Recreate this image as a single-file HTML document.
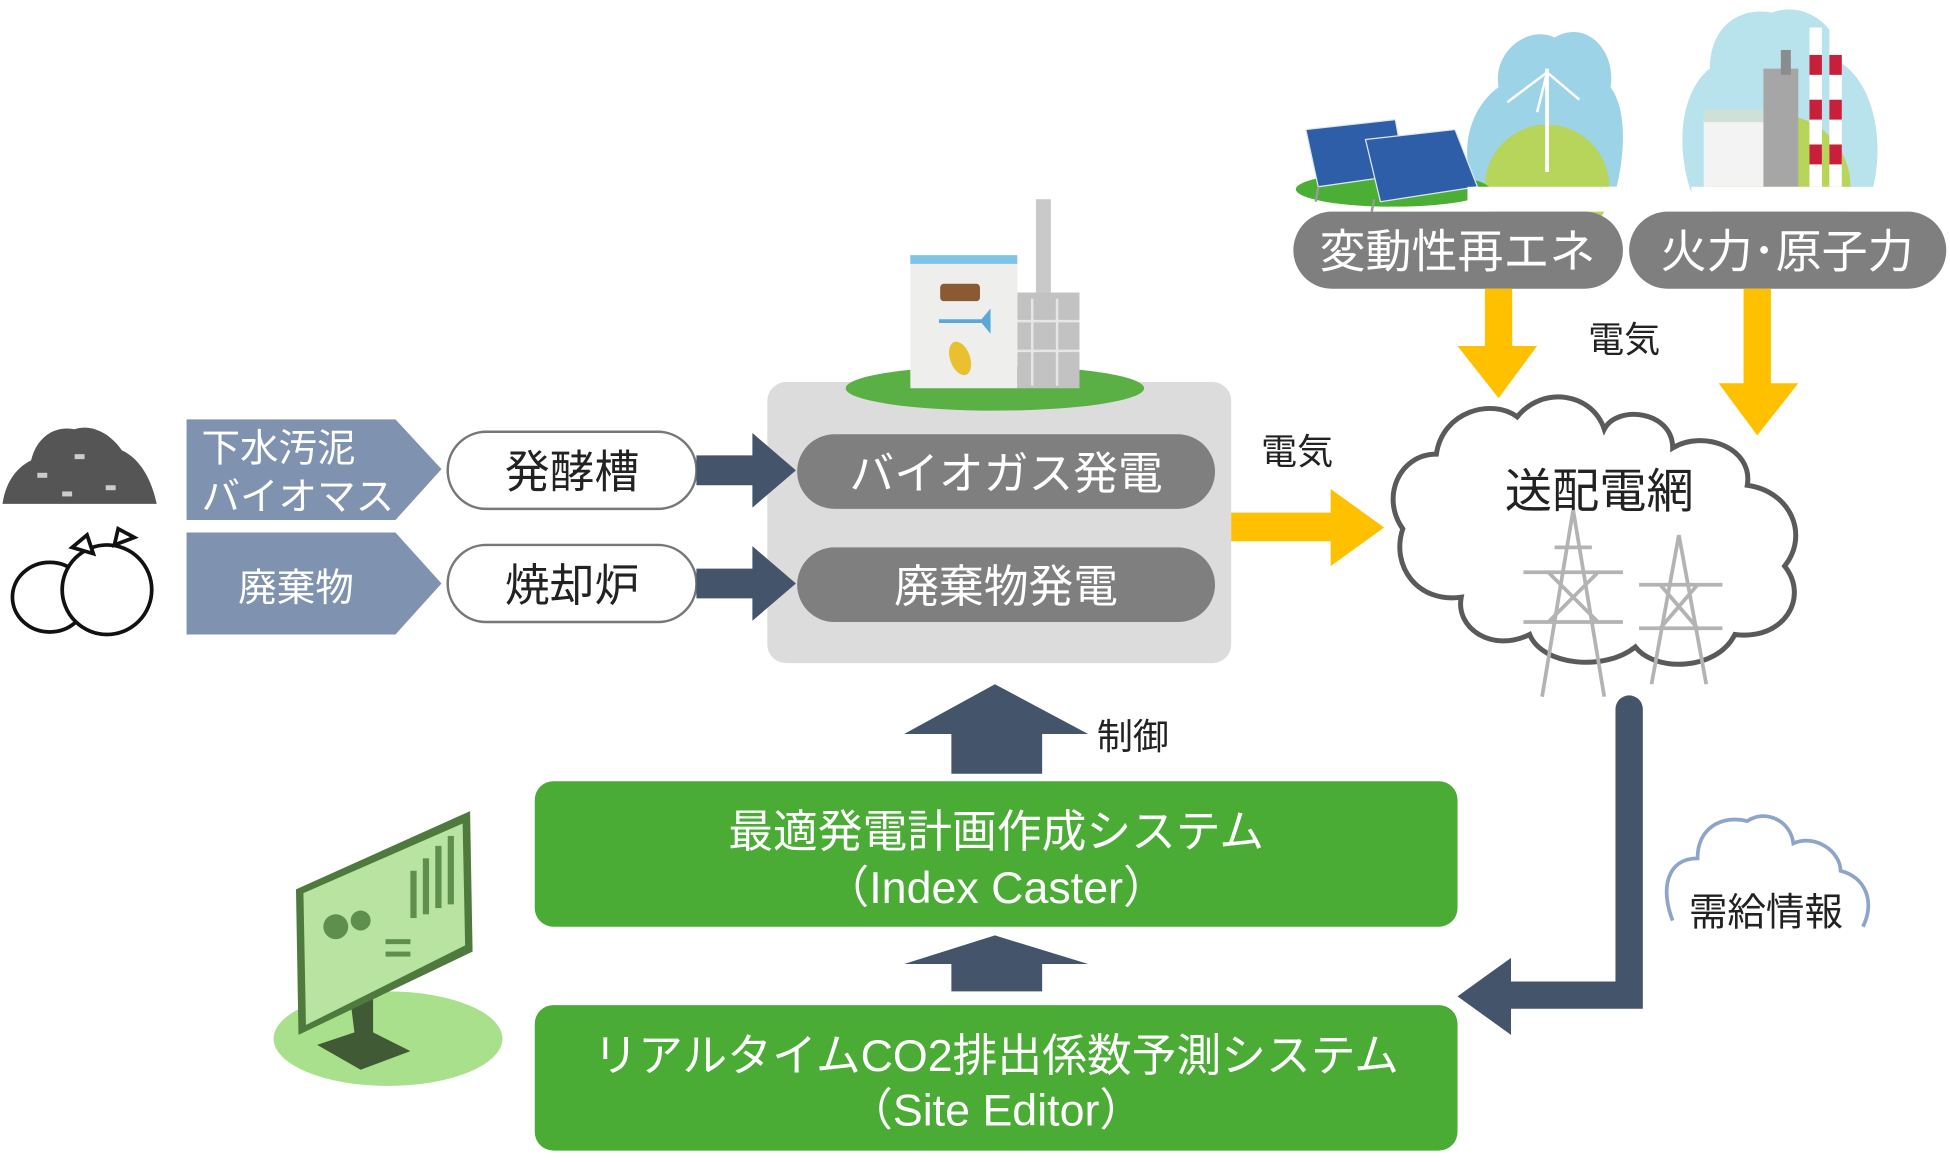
<!DOCTYPE html>
<html><head><meta charset="utf-8"><style>
html,body{margin:0;padding:0;background:#fff;width:1950px;height:1162px;overflow:hidden}
svg{display:block}
text{font-family:"Liberation Sans","Noto Sans CJK JP",sans-serif}
</style></head><body>
<svg width="1950" height="1162" viewBox="0 0 1568 934" xmlns="http://www.w3.org/2000/svg">
<g>
<path d="M1185,150 C1170,110 1190,80 1205,70 C1200,40 1230,20 1250,30 C1275,15 1300,40 1295,70 C1310,90 1305,130 1300,150 Z" fill="#9dd3e6"/>
<circle cx="1244" cy="150" r="50" fill="#b7d55a"/>
<line x1="1244" y1="55" x2="1244" y2="138" stroke="#fff" stroke-width="3"/>
<path d="M1244,58 L1236,90 M1244,58 L1270,80 M1244,58 L1212,82" stroke="#fff" stroke-width="2"/>
<ellipse cx="1120" cy="152" rx="78" ry="14" fill="#4caf35"/>
<g fill="#2f5ea8" stroke="#dfe6f0" stroke-width="1">
<polygon points="1050,104 1122,96 1130,140 1060,150"/>
<polygon points="1098,112 1170,104 1188,150 1110,162"/>
</g>
<line x1="1060" y1="150" x2="1058" y2="162" stroke="#999" stroke-width="2"/>
<line x1="1105" y1="160" x2="1103" y2="170" stroke="#999" stroke-width="2"/>
<path d="M1360,155 C1345,110 1355,70 1375,55 C1375,20 1400,5 1425,10 C1450,0 1480,20 1480,50 C1510,70 1515,120 1505,155 Z" fill="#b8e2ec"/>
<circle cx="1430" cy="150" r="58" fill="#b7d55a"/>
<rect x="1370" y="95" width="48" height="55" fill="#f3f3f3"/>
<rect x="1370" y="88" width="48" height="10" fill="#cfe0d8"/>
<rect x="1418" y="55" width="28" height="95" fill="#a6a6a6"/>
<rect x="1432" y="40" width="8" height="20" fill="#8c8c8c"/>
<rect x="1455" y="22" width="10" height="128" fill="#fff"/>
<rect x="1471" y="22" width="10" height="128" fill="#fff"/>
<g fill="#c8203a"><rect x="1455" y="44" width="10" height="16"/><rect x="1471" y="44" width="10" height="16"/><rect x="1455" y="80" width="10" height="16"/><rect x="1471" y="80" width="10" height="16"/><rect x="1455" y="116" width="10" height="16"/><rect x="1471" y="116" width="10" height="16"/></g>
<rect x="1360" y="150" width="150" height="20" fill="#fff"/>
<rect x="1180" y="150" width="130" height="20" fill="#fff"/>
</g>
<rect x="1040" y="170" width="265" height="62" rx="31" fill="#7f7f7f"/>
<text x="1172" y="215" font-size="37" fill="#fff" text-anchor="middle">変動性再エネ</text>
<rect x="1310" y="170" width="255" height="62" rx="31" fill="#7f7f7f"/>
<text x="1437" y="215" font-size="37" fill="#fff" text-anchor="middle">火力･原子力</text>
<polygon points="1194,232 1216,232 1216,278 1236,278 1205,320 1172,278 1194,278" fill="#ffc000"/>
<polygon points="1402,232 1424,232 1424,308 1446,308 1413,350 1382,308 1402,308" fill="#ffc000"/>
<text x="1306" y="283" font-size="29" fill="#222" text-anchor="middle">電気</text>
<path d="M1175,480 C1140,485 1118,455 1128,425 C1110,400 1125,365 1155,365 C1160,330 1200,320 1220,335 C1240,310 1280,315 1290,345 C1300,325 1345,330 1345,360 C1370,345 1410,360 1405,390 C1440,395 1455,430 1435,455 C1455,480 1435,515 1395,510 C1380,540 1330,540 1315,520 C1290,540 1240,535 1230,510 C1200,525 1170,505 1175,480 Z" fill="#fff" stroke="#5a5a5a" stroke-width="4"/>
<text x="1286" y="408" font-size="38" fill="#222" text-anchor="middle">送配電網</text>
<g stroke="#b3b3b3" stroke-width="3" fill="none">
<path d="M1265,410 L1240,560 M1265,410 L1290,560 M1225,460 L1305,460 M1225,500 L1305,500 M1245,460 L1285,500 M1285,460 L1245,500 M1250,440 L1280,440"/>
<path d="M1350,430 L1328,550 M1350,430 L1372,550 M1318,470 L1385,470 M1318,505 L1385,505 M1335,470 L1365,505 M1365,470 L1335,505"/>
</g>
<path d="M1345,740 C1335,715 1340,690 1365,690 C1365,665 1385,655 1405,660 C1420,650 1440,660 1442,678 C1460,670 1480,685 1480,700 C1500,705 1508,725 1498,745" fill="none" stroke="#8ea4c8" stroke-width="3"/>
<text x="1420" y="744" font-size="31" fill="#222" text-anchor="middle">需給情報</text>
<path d="M1310,570 L1310,800 L1212,800" fill="none" stroke="#44546a" stroke-width="22" stroke-linejoin="miter" stroke-linecap="round"/>
<polygon points="1215,770 1215,832 1172,801" fill="#44546a"/>
<rect x="617" y="307" width="373" height="226" rx="15" fill="#dcdcdc"/>
<ellipse cx="800" cy="312" rx="120" ry="18" fill="#5aaf45"/>
<rect x="833" y="160" width="12" height="110" fill="#c9c9c9"/>
<rect x="818" y="235" width="50" height="77" fill="#c2c2c2"/>
<g stroke="#e6e6e6" stroke-width="2"><line x1="818" y1="258" x2="868" y2="258"/><line x1="818" y1="282" x2="868" y2="282"/><line x1="830" y1="240" x2="830" y2="310"/><line x1="850" y1="240" x2="850" y2="310"/></g>
<rect x="732" y="205" width="86" height="107" fill="#eeeeec"/>
<rect x="732" y="205" width="86" height="7" fill="#7ec4e6"/>
<rect x="756" y="228" width="32" height="14" rx="3" fill="#8b5a35"/>
<path d="M755,258 L790,258 L795,252 L795,264 L790,258" fill="#5aa8d8" stroke="#5aa8d8" stroke-width="3"/>
<ellipse cx="772" cy="288" rx="8" ry="14" fill="#e8c030" transform="rotate(-20 772 288)"/>
<rect x="641" y="349" width="336" height="60" rx="30" fill="#7f7f7f"/>
<text x="809" y="393" font-size="36" fill="#fff" text-anchor="middle">バイオガス発電</text>
<rect x="641" y="440" width="336" height="60" rx="30" fill="#7f7f7f"/>
<text x="809" y="484" font-size="36" fill="#fff" text-anchor="middle">廃棄物発電</text>
<polygon points="990,412 1070,412 1070,393 1113,424 1070,455 1070,435 990,435" fill="#ffc000"/>
<text x="1043" y="373" font-size="29" fill="#222" text-anchor="middle">電気</text>
<polygon points="150,337 318,337 355,377 318,418 150,418" fill="#7f93b0"/>
<text x="162" y="371" font-size="31" fill="#fff">下水汚泥</text>
<text x="162" y="410" font-size="31" fill="#fff">バイオマス</text>
<polygon points="150,428 318,428 355,469 318,510 150,510" fill="#7f93b0"/>
<text x="238" y="483" font-size="31" fill="#fff" text-anchor="middle">廃棄物</text>
<rect x="360" y="347" width="200" height="62" rx="31" fill="#fff" stroke="#777" stroke-width="2"/>
<text x="460" y="392" font-size="36" fill="#222" text-anchor="middle">発酵槽</text>
<rect x="360" y="438" width="200" height="62" rx="31" fill="#fff" stroke="#777" stroke-width="2"/>
<text x="460" y="483" font-size="36" fill="#222" text-anchor="middle">焼却炉</text>
<polygon points="560,366 605,366 605,348 640,378 605,408 605,390 560,390" fill="#44546a"/>
<polygon points="560,457 605,457 605,439 640,469 605,499 605,481 560,481" fill="#44546a"/>
<path d="M2,405 C5,385 15,375 25,370 C30,350 45,342 60,345 C75,340 90,350 98,362 C112,368 122,385 126,405 Z" fill="#555"/>
<g fill="#ccc"><rect x="30" y="380" width="8" height="4"/><rect x="60" y="365" width="8" height="4"/><rect x="85" y="390" width="8" height="4"/><rect x="50" y="395" width="8" height="4"/></g>
<g fill="#fff" stroke="#111" stroke-width="3">
<ellipse cx="40" cy="480" rx="30" ry="28"/>
<ellipse cx="86" cy="474" rx="36" ry="36"/>
<path d="M58,440 L70,430 L75,445 Z M92,438 L95,425 L108,432 Z"/>
</g>
<polygon points="765,622 838,622 838,590 875,590 800,550 727,590 765,590" fill="#44546a"/>
<text x="882" y="602" font-size="29" fill="#222">制御</text>
<polygon points="765,797 838,797 838,775 875,775 800,752 727,775 765,775" fill="#44546a"/>
<rect x="430" y="628" width="742" height="117" rx="15" fill="#4aab35"/>
<text x="801" y="681" font-size="36" fill="#fff" text-anchor="middle">最適発電計画作成システム</text>
<text x="801" y="726" font-size="36" fill="#fff" text-anchor="middle">（Index Caster）</text>
<rect x="430" y="808" width="742" height="117" rx="15" fill="#4aab35"/>
<text x="801" y="861" font-size="36" fill="#fff" text-anchor="middle">リアルタイムCO2排出係数予測システム</text>
<text x="801" y="905" font-size="36" fill="#fff" text-anchor="middle">（Site Editor）</text>
<ellipse cx="312" cy="835" rx="92" ry="38" fill="#a8e08c"/>
<polygon points="280,790 300,790 300,830 330,845 290,860 255,840 285,830" fill="#3f5a34"/>
<polygon points="238,715 378,652 380,765 240,832" fill="#4e7a3e"/>
<polygon points="244,718 372,662 374,760 246,824" fill="#b8e3a0"/>
<g fill="#5f8f4c"><rect x="340" y="690" width="5" height="45"/><rect x="350" y="680" width="5" height="50"/><rect x="360" y="672" width="5" height="55"/><rect x="330" y="700" width="5" height="38"/><circle cx="270" cy="745" r="10"/><circle cx="290" cy="740" r="8"/><rect x="310" y="755" width="20" height="4"/><rect x="310" y="765" width="20" height="4"/></g>
</svg>
</body></html>
